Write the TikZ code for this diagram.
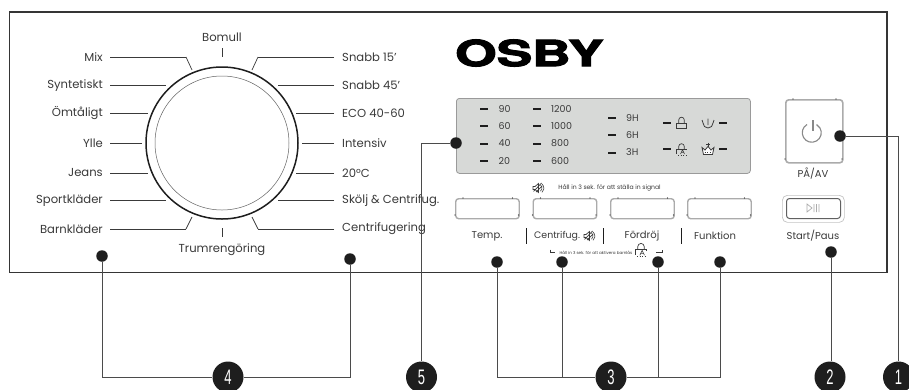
\documentclass[tikz,border=0pt]{standalone}
\usepackage{fontspec}
\setmainfont{Poppins}
\newfontfamily\logofont[FakeBold=2.6]{TeX Gyre Heros}
\newfontfamily\numfont{Liberation Sans}
\definecolor{ink}{HTML}{1E1E1E}
\definecolor{txt}{HTML}{3A3A3A}
\definecolor{btn}{HTML}{ABABAB}
\definecolor{disp}{HTML}{D7D9D7}
\tikzset{
  leader/.style={draw=txt,line width=0.7pt},
  callout/.style={draw=ink!80,line width=0.7pt},
  lbl/.style={text=txt,font=\fontsize{11.6}{12}\selectfont,inner sep=0pt},
  lblL/.style={lbl,anchor=east},
  lblR/.style={lbl,anchor=west},
  dsp/.style={text=txt,font=\fontsize{9.5}{10}\selectfont,inner sep=0pt,anchor=west},
  led/.style={draw=ink,line width=2pt},
  dot/.style={circle,fill=ink,minimum size=11.5pt,inner sep=0pt},
  num/.style={circle,fill=ink,minimum size=31pt,inner sep=0pt},
  digit/.style={text=white,inner sep=0pt,font=\numfont\fontsize{21}{22}\selectfont},
  softkey/.style={draw=btn,line width=1.4pt,rounded corners=3pt,fill=white},
  icon/.style={draw=txt,line width=0.6pt},
  mute/.pic={
    \draw[icon,line width=0.7pt] (-5,-1.5)--(-3,-1.5)--(0.5,-4.5)--(0.5,4.5)--(-3,1.5)--(-5,1.5)--cycle;
    \draw[icon,line width=0.7pt] (-4.5,3.5)--(3.5,-5) (-2,4)--(4,-2);
    \draw[icon] (2.5,-3) arc (-50:50:4);
    \draw[icon] (4,-4) arc (-50:50:5.4);
  },
  lockicon/.pic={
    \draw[icon,line width=0.7pt] (-4.8,0) rectangle (4.8,5);
    \draw[icon,line width=0.7pt] (-2.8,0)--(-2.8,-3) arc (180:360:2.8)--(2.8,0);
  },
  childlock/.pic={
    \draw[icon,line width=0.7pt] (4.8,1)--(4.8,0)--(-4.8,0)--(-4.8,5);
    \draw[icon,line width=0.7pt] (-2.8,0)--(-2.8,-2.5) arc (180:360:2.8)--(2.8,0);
    \draw[icon,line width=0.6pt] (-1,5)--(1,0.8)--(3,5) (0,3.4)--(2,3.4);
    \draw[icon,dotted,line width=0.7pt] (-3.5,6.2)--(4.5,6.2);
  },
}
\newcommand{\softdots}[4]{%
  \fill[ink] (#1+8,#2) circle (.6) (#1+#3-6,#2) circle (.6) (#1,#2+#4-3) circle (.6) (#1+#3,#2+#4-3) circle (.6);}
\begin{document}
\begin{tikzpicture}[x=1pt,y=-1pt]
\useasboundingbox (0,0) rectangle (909,389);
\fill[white] (0,0) rectangle (909,389);
% panel
\node[draw=ink!90,line width=1.5pt,minimum width=877.5pt,minimum height=260.5pt,inner sep=0pt,anchor=north west] (panel) at (8.8,11) {};
% dial
\node[circle,draw=ink,line width=1.5pt,minimum size=152pt,inner sep=0pt] (dial) at (222,143) {};
\node[circle,draw=txt!80,line width=0.5pt,minimum size=134pt,inner sep=0pt] (dialin) at (222,143) {};
% programme labels
\node[lbl] (bomull) at (222,37) {Bomull};
\node[lbl] (trum) at (222,250) {Trumrengöring};
\coordinate (bt1) at (222,48); \coordinate (bt2) at (222,57);
\coordinate (bb1) at (222,228); \coordinate (bb2) at (222,237);
\draw[leader,line width=1pt] (bt1)--(bt2) (bb1)--(bb2);
\foreach \nm/\t/\yy/\xe in {mix/Mix/57/186,syn/Syntetiskt/85.5/166,omt/Ömtåligt/113/148,yll/Ylle/143/142,jea/Jeans/173/148,spo/Sportkläder/200.5/166,bar/Barnkläder/229/186}{
  \node[lblL] (\nm) at (103,\yy) {\t};
  \draw[leader] (110,\yy)--(\xe,\yy);
}
\foreach \nm/\t/\yy/\xe in {s15/Snabb 15'/57/258,s45/Snabb 45'/85.5/278,eco/ECO 40-60/113/296,int/Intensiv/143/302,tjg/20°C/173/296,sko/Skölj \& Centrifug./200.5/278,cen/Centrifugering/229/258}{
  \node[lblR] (\nm) at (342,\yy) {\t};
  \draw[leader] (334,\yy)--(\xe,\yy);
}
\draw[leader] (186,57)--(192,70) (258,57)--(252,70) (186,229)--(192,217) (258,229)--(252,217);
% logo
\node[inner sep=0pt,anchor=west,text=black] (logo) at (455,53) {\scalebox{1.48}[1]{\logofont\bfseries\fontsize{36}{36}\selectfont OSBY}};
% display
\node[draw=btn!90!black,fill=disp,line width=0.8pt,rounded corners=3pt,minimum width=294pt,minimum height=75pt,inner sep=0pt,anchor=north west] (display) at (456,98) {};
\foreach \t/\yy in {90/108.5,60/126,40/143.5,20/161}{
  \draw[led] (480,\yy)--(488,\yy);
  \node[dsp] (d\t) at (498.5,\yy) {\t};
}
\foreach \t/\yy in {1200/108.5,1000/126,800/143.5,600/161}{
  \draw[led] (533,\yy)--(541,\yy);
  \node[dsp] (r\t) at (551,\yy) {\t};
}
\foreach \t/\yy in {9H/118,6H/135,3H/152.5}{
  \draw[led] (608,\yy)--(616,\yy);
  \node[dsp] (h\t) at (626,\yy) {\t};
}
\draw[led] (663,123)--(671,123) (719,123)--(727,123) (663,149)--(671,149) (719,149)--(727,149);
\pic at (681.5,123) {lockicon};
\pic at (681.5,149) {childlock};
% drain and wash icons
\draw[icon,line width=0.8pt] (702,120)--(703,123) arc (180:0:5)--(714,120) (708,118.5)--(708,125);
\draw[icon,fill=white,line width=0.8pt] (702,147.5)--(705,150)--(708,146.5)--(711,150)--(714,147.5)--(712.5,154.5)--(703.5,154.5)--cycle;
\draw[icon,line width=0.8pt] (708,142.5)--(708,146.5) (706,144.5)--(710,144.5);
\draw[icon,dotted,line width=0.8pt] (704.5,152)--(712,152);
% soft keys
\foreach \nm/\xa in {ka/455,kb/532.5,kc/610,kd/687}{
  \node[softkey,minimum width=63.5pt,minimum height=20pt,inner sep=0pt,anchor=north west] (\nm) at (\xa,198) {};
  \softdots{\xa}{198}{63.5}{20}
}
\node[lbl,text=txt,font=\fontsize{6.1}{7}\selectfont] (signal) at (609.5,188) {Håll in 3 sek. för att ställa in signal};
\pic at (538,188) {mute};
\node[lbl] (temp) at (487,236) {\fontsize{10}{11}\selectfont Temp.};
\node[lbl,anchor=west] (centr) at (534,236) {\fontsize{9.4}{11}\selectfont Centrifug.};
\pic at (589,236) {mute};
\node[lbl] (ford) at (642,236) {\fontsize{10}{11}\selectfont Fördröj};
\node[lbl] (funk) at (715,236) {\fontsize{10}{11}\selectfont Funktion};
\foreach \xx in {526,603,681}{\draw[ink,line width=1pt] (\xx,228)--(\xx,244);}
\node[lbl,font=\fontsize{4.1}{5}\selectfont] (barn) at (596,252.5) {Håll in 3 sek. för att aktivera barnlås};
\draw[icon] (550,249.5)--(550,252)--(555,252) (656,252)--(662,252)--(662,249.5);
\pic[scale=1.15] at (641,249.5) {childlock};
% power
\node[softkey,line width=1.6pt,minimum width=57pt,minimum height=63pt,inner sep=0pt,anchor=north west] (power) at (785,99) {};
\softdots{785}{99}{57}{63}
\draw[draw=txt!60,line width=1.1pt] (807,124.5) arc (120:420:9.5 and -9.5);
\draw[draw=txt!60,line width=1.1pt] (813,120)--(813,131);
\node[lbl] (paav) at (813,174) {\fontsize{10}{11}\selectfont PÅ/AV};
% start
\node[draw=btn!70,line width=0.7pt,rounded corners=5pt,minimum width=62pt,minimum height=27pt,inner sep=0pt,anchor=north west] (startout) at (782,195) {};
\node[draw=txt!80,line width=1pt,rounded corners=3pt,minimum width=54pt,minimum height=20pt,inner sep=0pt,anchor=north west] (start) at (786,198) {};
\draw[btn,line width=0.7pt] (807,204)--(807,212)--(812,208)--cycle (814,204)--(814,212) (816.5,204)--(816.5,212) (819,204)--(819,212);
\node[lbl] (startp) at (813,236) {\fontsize{10}{11}\selectfont Start/Paus};
% callout dots
\node[dot] (d1) at (840,136) {};
\node[dot] (d2) at (831,252) {};
\node[dot] (d3a) at (497,262) {};
\node[dot] (d3b) at (562,262) {};
\node[dot] (d3c) at (658,262) {};
\node[dot] (d3d) at (720,262) {};
\node[dot] (d4a) at (102,256) {};
\node[dot] (d4b) at (350,259) {};
\node[dot] (d5) at (456,143) {};
% numbers
\node[num] (n1) at (898.5,377) {};
\node[num] (n2) at (830,377) {};
\node[num] (n3) at (611,377) {};
\node[num] (n4) at (228,377) {};
\node[num] (n5) at (421.5,377) {};
\draw[callout] (d1) -| (n1);
\draw[callout] (d2) -- (d2 |- n2.north);
\draw[callout] (d3a) |- (n3);
\draw[callout] (d3d) |- (n3);
\draw[callout] (d3b) -- (d3b |- n3);
\draw[callout] (d3c) -- (d3c |- n3);
\draw[callout] (d4a) |- (n4);
\draw[callout] (d4b) |- (n4);
\draw[callout] (d5) -| (n5);
\foreach \k/\xx in {1/898.5,2/830,3/611,4/228,5/421.5}{
  \node[digit] (t\k) at (\xx,377) {\scalebox{.62}[1]{\k}};
}
\end{tikzpicture}
\end{document}
